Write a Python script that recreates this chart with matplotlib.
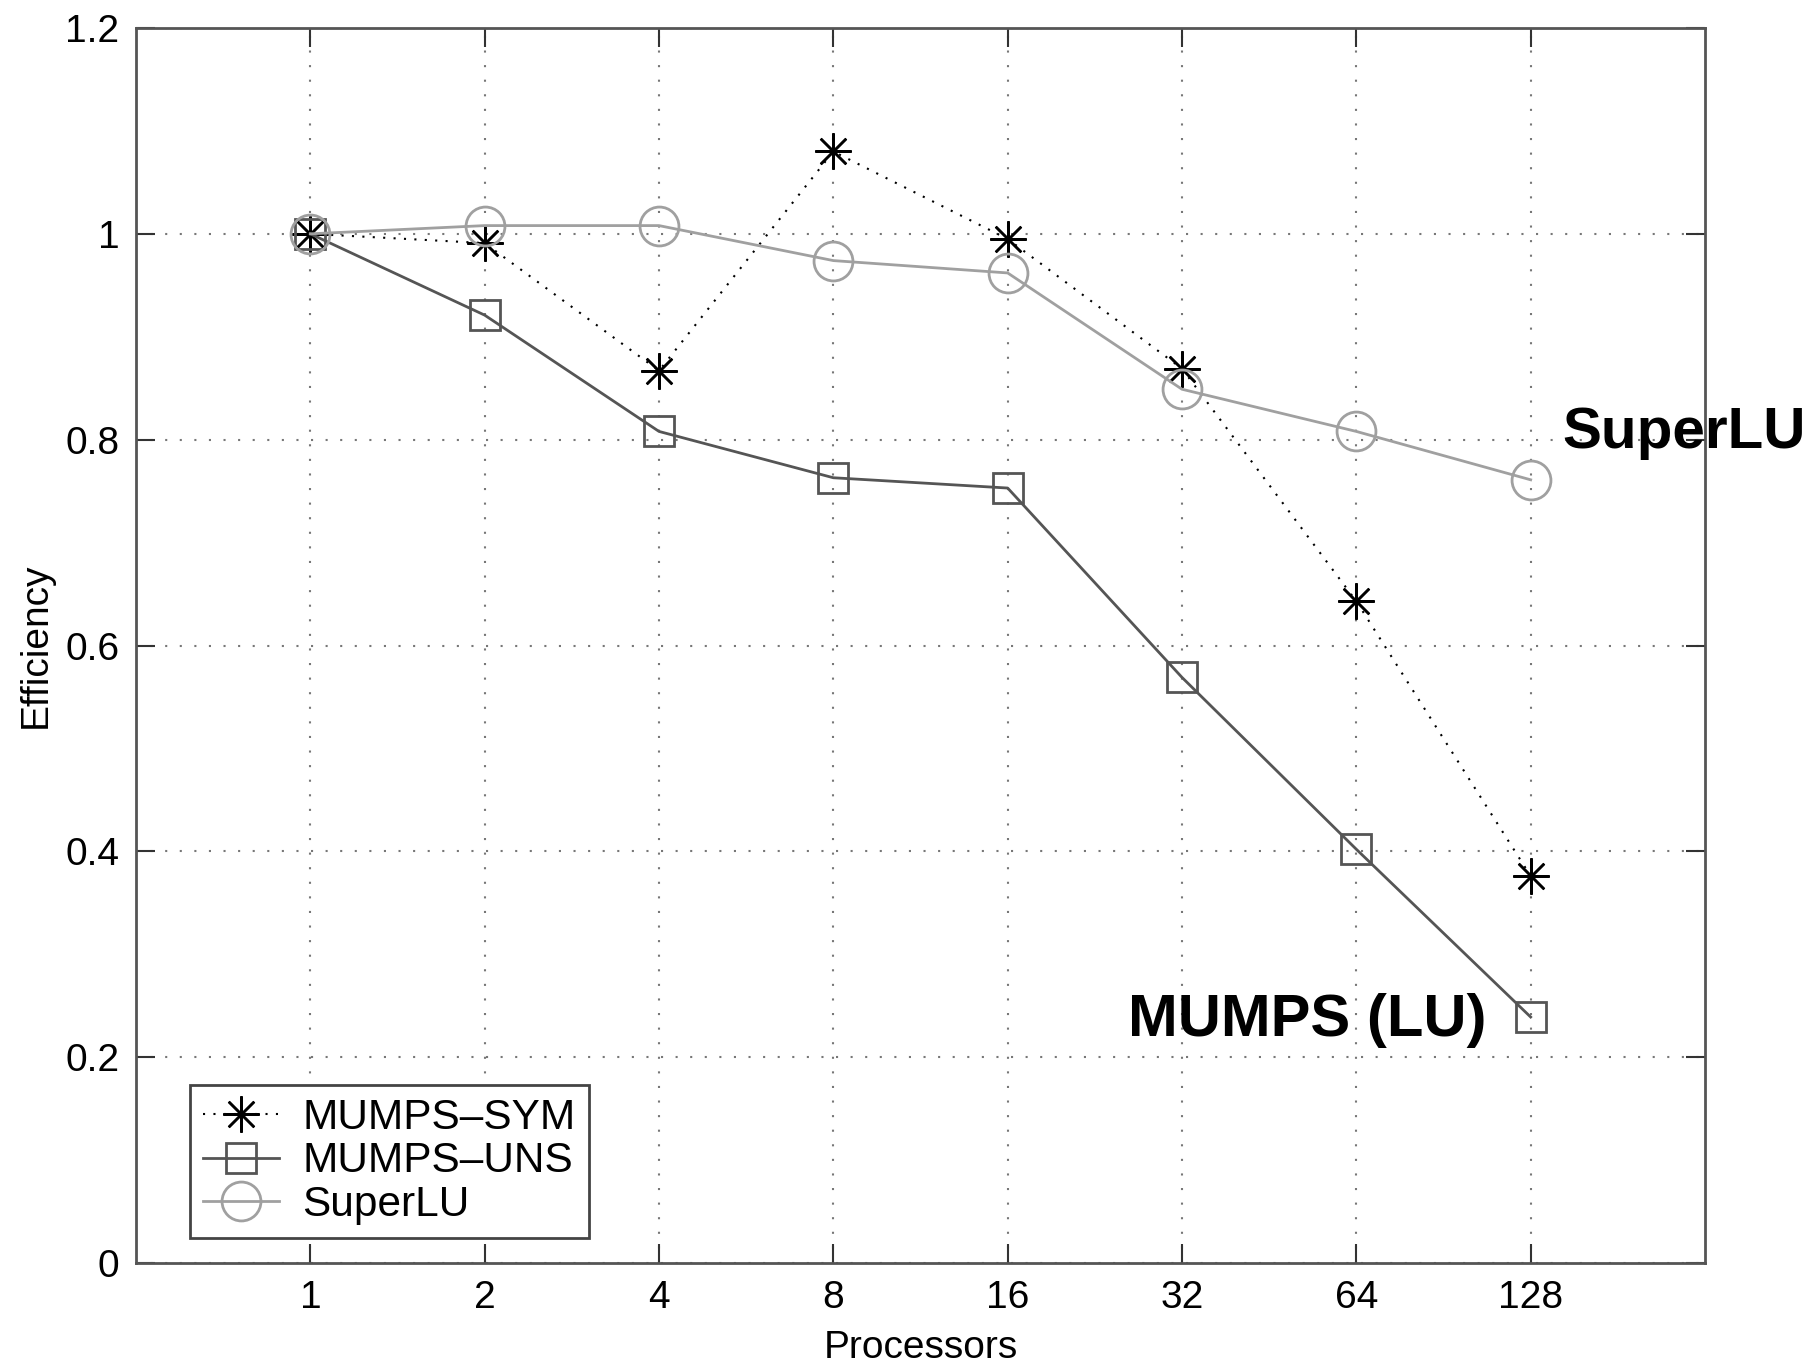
import matplotlib.pyplot as plt

# data
procs = ['1', '2', '4', '8', '16', '32', '64', '128']
mumps_sym = [1.0, 0.991, 0.867, 1.080, 0.995, 0.869, 0.643, 0.376]
mumps_uns = [1.0, 0.921, 0.808, 0.763, 0.753, 0.569, 0.402, 0.239]
superlu = [1.0, 1.008, 1.008, 0.974, 0.962, 0.849, 0.808, 0.761]

plt.rcParams['font.family'] = ['Liberation Sans', 'DejaVu Sans']

fig = plt.figure(figsize=(18.12, 13.69), dpi=100)
ax = fig.add_axes([136 / 1812, 1 - 1263 / 1369, (1705 - 136) / 1812, (1263 - 28) / 1369])

x = list(range(1, len(procs) + 1))
ax.plot(x, mumps_sym, color='black', linestyle=(0, (1, 4)), linewidth=1.5,
        marker=(8, 2, 0), markersize=26, markeredgewidth=1.8, label='MUMPS\u2013SYM', zorder=3)
ax.plot(x, mumps_uns, color='#555555', linestyle='-', linewidth=2,
        marker='s', markersize=22, markerfacecolor='none', markeredgewidth=2,
        label='MUMPS\u2013UNS', zorder=3)
ax.plot(x, superlu, color='#a0a0a0', linestyle='-', linewidth=2,
        marker='o', markersize=28, markerfacecolor='none', markeredgewidth=2,
        label='SuperLU', zorder=3)

ax.set_xlim(0, 9)
ax.set_ylim(0, 1.2)
ax.set_xticks(x)
ax.set_xticklabels(procs)
ax.set_yticks([0, 0.2, 0.4, 0.6, 0.8, 1.0, 1.2])
ax.set_yticklabels(['0', '0.2', '0.4', '0.6', '0.8', '1', '1.2'])
ax.tick_params(direction='in', length=14, width=1.5, labelsize=28, pad=12,
               top=True, right=True, color='#333333')
ax.grid(True, linestyle=(0, (1, 6)), color='#777777', linewidth=1.5)
for s in ax.spines.values():
    s.set_color('#555555')
    s.set_linewidth(2)

ax.set_xlabel('Processors', fontsize=28, labelpad=10)
ax.set_ylabel('Efficiency', fontsize=28, labelpad=8)

leg = ax.legend(loc='lower left', bbox_to_anchor=(0.0346, 0.0206), borderaxespad=0,
                fontsize=30.5, fancybox=False, framealpha=1, edgecolor='#444444',
                handlelength=1.8, borderpad=0.3, labelspacing=0.08, handletextpad=0.55)
leg.get_frame().set_linewidth(2)

ax.text(1562 / 1812, 1 - 433 / 1369, 'SuperLU', transform=fig.transFigure,
        fontsize=42, fontweight='bold', ha='left', va='center')
ax.text(1487 / 1812, 1 - 1020 / 1369, 'MUMPS (LU)', transform=fig.transFigure,
        fontsize=43, fontweight='bold', ha='right', va='center')

fig.savefig('out.png', dpi=100)
